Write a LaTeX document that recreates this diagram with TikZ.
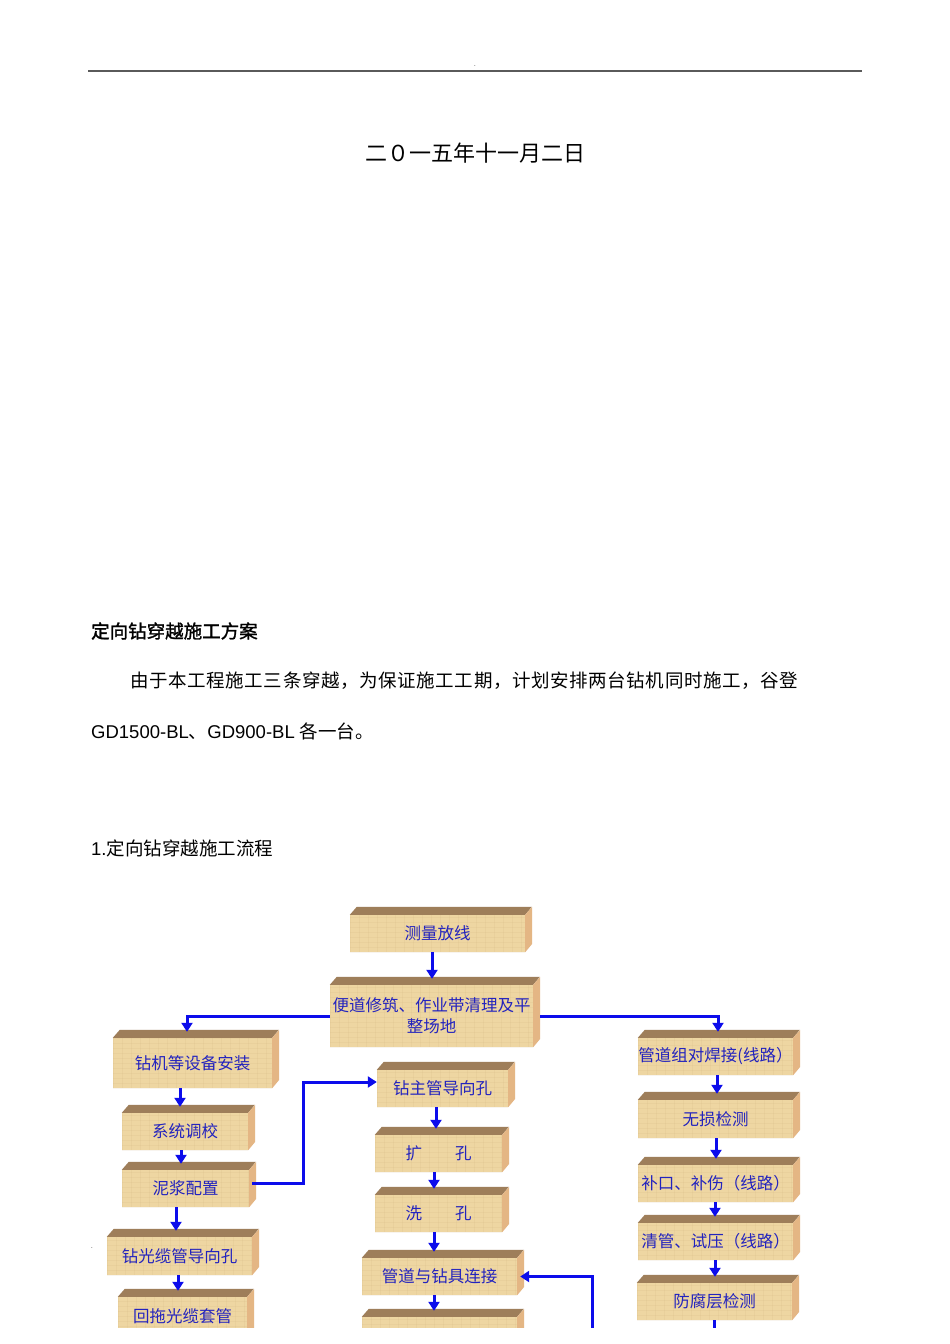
\documentclass[tikz,border=0pt]{standalone}
\usepackage{fontspec}
\setmainfont{Liberation Sans}
\newfontfamily\cjk{Noto Sans CJK SC}
\newfontfamily\cjkb{Noto Sans CJK SC}[FakeBold=1.5]
\usetikzlibrary{arrows.meta}
\definecolor{ftan}{RGB}{238,214,162}
\definecolor{ttan}{RGB}{158,126,90}
\definecolor{stan}{RGB}{228,182,132}
\definecolor{grainc}{RGB}{200,170,118}
\definecolor{txtblue}{RGB}{35,35,190}
\definecolor{arrblue}{RGB}{12,12,235}
\definecolor{hdr}{RGB}{90,90,90}
\def\spreadrest#1{\ifx#1\relax\else\hfill#1\expandafter\spreadrest\fi}
\tikzset{
  face/.style={fill=ftan, inner sep=0pt, text=txtblue,
    font=\cjk\fontsize{16.5}{21}\selectfont, align=center,
    path picture={
      \foreach \k in {0,5,...,80}{\draw[grain] ([yshift=\k]path picture bounding box.south west) -- ([yshift=\k]path picture bounding box.south east);}
      \foreach \k in {0,9,...,220}{\draw[grain] ([xshift=\k]path picture bounding box.south west) -- ([xshift=\k]path picture bounding box.north west);}
    }},
  grain/.style={draw=grainc, line width=0.8pt, opacity=0.12},
  arr/.style={draw=arrblue, line width=3pt, -{Triangle[length=9pt,width=11pt]}},
  ln/.style={draw=arrblue, line width=3pt},
  bodytxt/.style={anchor=west, inner sep=0pt, font=\fontsize{18.5}{22}\selectfont}
}
\newcommand\blk[6]{%
  \node[face, minimum width={#4-#2}, minimum height={#5-#3}] (#1) at ({(#2+#4)/2},{-(#3+#5)/2}) {#6};
  \fill[ttan] (#1.north west) -- ++(7,8) -- ++({#4-#2},0) -- (#1.north east) -- cycle;
  \fill[stan] (#1.north east) -- ++(7,8) -- ++(0,{-(#5-#3)}) -- (#1.south east) -- cycle;
}
\begin{document}
\begin{tikzpicture}[x=1pt,y=1pt]
\useasboundingbox[fill=white] (0,0) rectangle (950,-1344);
% header
\coordinate (hl) at (88,-71);
\coordinate (hr) at (862,-71);
\draw[hdr, line width=2.2pt] (hl) -- (hr);
\node[inner sep=0pt, font=\fontsize{6}{6}\selectfont] (dot1) at (475,-66) {.};
\node[inner sep=0pt, font=\cjk\fontsize{22}{26}\selectfont] (date) at (475,-153) {二０一五年十一月二日};
% body text
\node[bodytxt] (title) at (91,-631) {\cjkb 定向钻穿越施工方案};
\node[bodytxt] (p1) at (130,-681) {\cjk\hbox to 668pt{由\spreadrest 于本工程施工三条穿越，为保证施工工期，计划安排两台钻机同时施工，谷登\relax}};
\node[bodytxt] (p2) at (91,-731) {GD1500-BL{\cjk 、}GD900-BL {\cjk 各一台。}};
\node[bodytxt] (sec) at (91,-848) {1.{\cjk 定向钻穿越施工流程}};
\node[inner sep=0pt, font=\fontsize{6}{6}\selectfont] (dot2) at (92,-1248) {.};
\begin{scope}
\clip (0,0) rectangle (950,-1327);
\blk{A}{350}{915}{525}{952}{测量放线}
\blk{B}{330}{985}{533}{1047}{便道修筑、作业带清理及平\\整场地}
\blk{C}{113}{1038}{272}{1088}{钻机等设备安装}
\blk{D}{122}{1113}{248}{1150}{系统调校}
\blk{E}{122}{1170}{249}{1207}{泥浆配置}
\blk{F}{107}{1237}{252}{1275}{钻光缆管导向孔}
\blk{G}{118}{1297}{247}{1336}{回拖光缆套管}
\blk{H}{377}{1070}{508}{1107}{钻主管导向孔}
\blk{I}{375}{1135}{502}{1172}{扩\hspace{2em}孔}
\blk{J}{375}{1195}{502}{1232}{洗\hspace{2em}孔}
\blk{K}{362}{1258}{517}{1295}{管道与钻具连接}
\blk{L}{362}{1317}{517}{1354}{}
\blk{M}{638}{1038}{793}{1075}{管道组对焊接(线路）}
\blk{N}{638}{1100}{793}{1138}{无损检测}
\blk{O}{638}{1165}{793}{1202}{补口、补伤（线路）}
\blk{P}{638}{1223}{793}{1260}{清管、试压（线路）}
\blk{Q}{637}{1283}{792}{1320}{防腐层检测}
% connectors
\draw[arr] ([xshift=-5.5]A.south) -- ([xshift=0.5,yshift=6]B.north);
\draw[arr] (B.west) -| ([xshift=-5.5,yshift=6]C.north);
\draw[arr] ([xshift=7]B.east) -| ([xshift=2.5,yshift=6]M.north);
\draw[arr] ([xshift=-12.5]C.south) -- ([xshift=-5,yshift=6]D.north);
\draw[arr] ([xshift=-4]D.south) -- ([xshift=-4.5,yshift=6]E.north);
\draw[arr] ([xshift=-9.5]E.south) -- ([xshift=-3.5,yshift=6]F.north);
\draw[arr] ([xshift=-1.5]F.south) -- ([xshift=-4.5,yshift=6]G.north);
\draw[arr] ([xshift=3,yshift=5]E.east) -- ++(51,0) |- ([yshift=6.5]H.west);
\draw[arr] ([xshift=-6.5]H.south) -- ([xshift=-2.5,yshift=6]I.north);
\draw[arr] ([xshift=-4.5]I.south) -- ([xshift=-4.5,yshift=6]J.north);
\draw[arr] ([xshift=-4.5]J.south) -- ([xshift=-5.5,yshift=6]K.north);
\draw[arr] ([xshift=-5.5]K.south) -- ([xshift=-5.5,yshift=6]L.north);
\coordinate (kfree) at (592,-1335);
\draw[arr] (kfree) |- ([xshift=3]K.east);
\draw[arr] ([xshift=1.5]M.south) -- ([xshift=1.5,yshift=6]N.north);
\draw[arr] ([xshift=0.5]N.south) -- ([xshift=0.5,yshift=6]O.north);
\draw[arr] ([xshift=-0.5]O.south) -- ([xshift=-0.5,yshift=6]P.north);
\draw[arr] ([xshift=-0.5]P.south) -- ([xshift=0.5,yshift=6]Q.north);
\coordinate (qfree) at (714,-1335);
\draw[ln] ([xshift=-0.5]Q.south) -- (qfree);
\end{scope}
\end{tikzpicture}
\end{document}
